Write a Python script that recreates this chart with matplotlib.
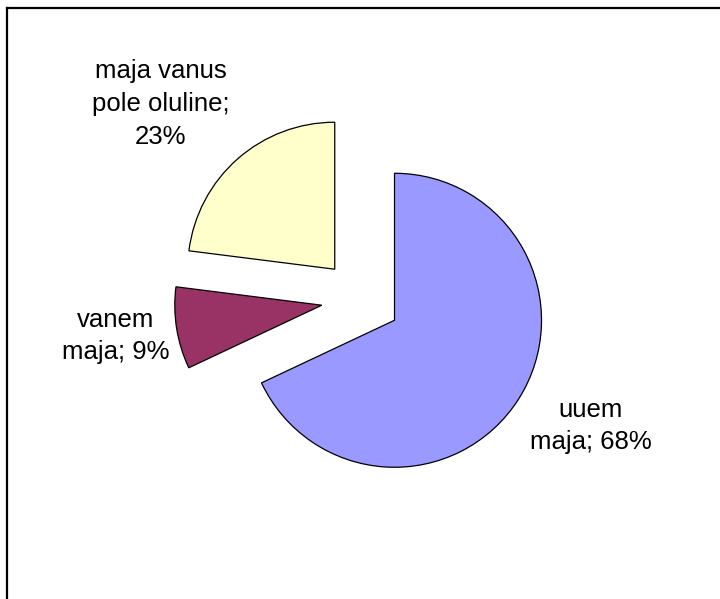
import matplotlib.pyplot as plt
from matplotlib.lines import Line2D

plt.rcParams['font.family'] = ['Liberation Sans', 'DejaVu Sans']

# andmed (kellaosuti suunas alates kella 12-st)
labels = ['uuem\nmaja; 68%', 'vanem\nmaja; 9%', 'maja vanus\npole oluline;\n23%']
shares = [68, 9, 23]
colors = ['#9999FF', '#993366', '#FFFFCC']

W, H = 720, 599
R = 147.0          # raadius pikslites
cx, cy = 361, 299  # keskpunkt pikslites (ülevalt)

fig = plt.figure(figsize=(W / 100, H / 100), dpi=100)
ax = fig.add_axes([0, 0, 1, 1])

ax.pie(shares, colors=colors, startangle=90, counterclock=False,
       explode=[0.27] * 3, radius=1.0,
       wedgeprops=dict(edgecolor='black', linewidth=0.9))

ax.set_aspect('auto')
ax.set_xlim(-cx / R, (W - cx) / R)
ax.set_ylim(-(H - cy) / R, cy / R)
ax.axis('off')


def px(x, y):
    return (x - cx) / R, (cy - y) / R


label_pos = [(591, 426), (116, 336), (161, 104)]
for txt, (x, y) in zip(labels, label_pos):
    ax.text(*px(x, y), txt, ha='center', va='center', fontsize=18.5,
            linespacing=1.45, color='black')

# raam ainult üleval ja vasakul
fig.add_artist(Line2D([7 / W, 1], [1 - 7.5 / H, 1 - 7.5 / H],
                      transform=fig.transFigure, color='black', linewidth=1.6))
fig.add_artist(Line2D([7 / W, 7 / W], [0, 1 - 7.5 / H],
                      transform=fig.transFigure, color='black', linewidth=1.6))

fig.savefig('out.png', dpi=100)
